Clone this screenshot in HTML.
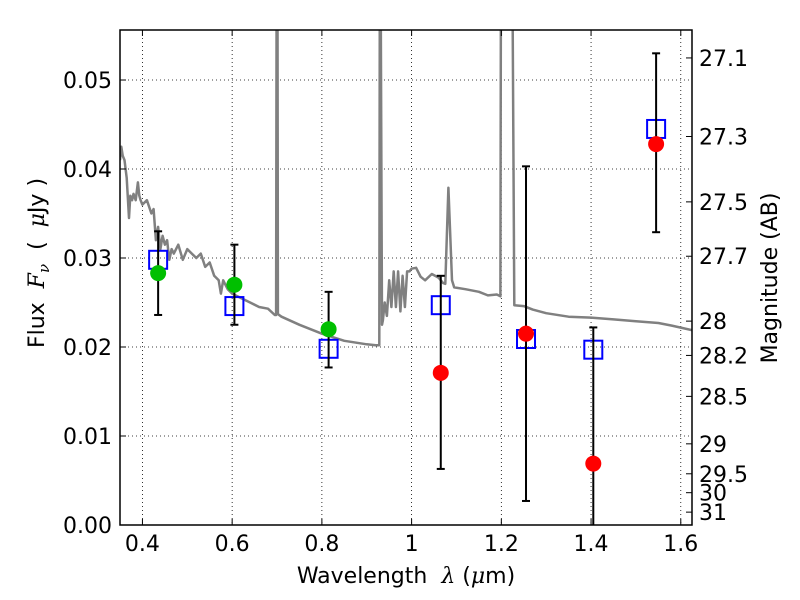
<!DOCTYPE html>
<html><head><meta charset="utf-8">
<style>
html,body{margin:0;padding:0;background:#fff;}
svg{display:block;font-family:"DejaVu Sans","Liberation Sans",sans-serif;}
text{white-space:pre;}
</style></head>
<body>
<svg id="chart" width="800" height="600" viewBox="0 0 800 600" xmlns="http://www.w3.org/2000/svg">
<rect width="800" height="600" fill="#fff"/>
<g id="grid"></g>
<g id="plot"></g>
<g id="axes"></g>
<text x="406" y="583" font-size="22" text-anchor="middle">Wavelength  <tspan font-style="italic" font-family="'DejaVu Serif',serif">λ</tspan> (<tspan font-style="italic" font-family="'DejaVu Serif',serif">μ</tspan>m)</text>
<text transform="translate(44,263) rotate(-90)" font-size="22" text-anchor="middle">Flux  <tspan font-style="italic" font-family="'DejaVu Serif',serif">F</tspan><tspan font-style="italic" font-family="'DejaVu Serif',serif" font-size="15" dy="5">ν</tspan><tspan dy="-5">  (  </tspan><tspan font-style="italic" font-family="'DejaVu Serif',serif">μ</tspan>Jy )</text>
<text transform="translate(777,278) rotate(-90)" font-size="22" text-anchor="middle">Magnitude (AB)</text>
</svg>
<script>
const xTicks=[0.4,0.6,0.8,1.0,1.2,1.4,1.6];
const xTickLabels=["0.4","0.6","0.8","1","1.2","1.4","1.6"];
const yTicks=[0,0.01,0.02,0.03,0.04,0.05];
const yTickLabels=["0.00","0.01","0.02","0.03","0.04","0.05"];
const magTicks=[27.1,27.3,27.5,27.7,28,28.2,28.5,29,29.5,30,31];
const magTickLabels=["27.1","27.3","27.5","27.7","28","28.2","28.5","29","29.5","30","31"];
const specWave=[0.35,0.353,0.356,0.36,0.365,0.37,0.373,0.377,0.38,0.385,0.39,0.393,0.396,0.4,0.41,0.42,0.425,0.43,0.435,0.44,0.445,0.45,0.455,0.46,0.465,0.47,0.48,0.49,0.5,0.51,0.52,0.53,0.54,0.55,0.56,0.57,0.575,0.58,0.585,0.59,0.6,0.62,0.64,0.66,0.68,0.695,0.698,0.699,0.701,0.702,0.71,0.75,0.8,0.85,0.9,0.92,0.928,0.929,0.931,0.934,0.936,0.94,0.945,0.95,0.955,0.96,0.965,0.97,0.975,0.98,0.985,0.99,0.995,1.0,1.01,1.02,1.03,1.045,1.06,1.07,1.075,1.082,1.09,1.095,1.12,1.15,1.17,1.19,1.198,1.199,1.201,1.21,1.225,1.229,1.25,1.27,1.3,1.35,1.4,1.45,1.5,1.55,1.58,1.625];
const specFlux=[0.041,0.0425,0.0415,0.041,0.039,0.0345,0.037,0.0365,0.0372,0.0365,0.0385,0.037,0.0365,0.036,0.0365,0.035,0.0355,0.032,0.0335,0.031,0.0325,0.0315,0.032,0.0298,0.031,0.0305,0.0315,0.0298,0.031,0.0305,0.030,0.0305,0.029,0.0295,0.028,0.0275,0.026,0.0275,0.027,0.0265,0.026,0.0255,0.025,0.0245,0.0243,0.0236,0.0236,0.06,0.06,0.0237,0.0234,0.0225,0.0215,0.0207,0.0203,0.0202,0.0202,0.06,0.06,0.0225,0.023,0.025,0.0235,0.0275,0.0245,0.0285,0.0245,0.0285,0.024,0.028,0.0245,0.0285,0.0285,0.0288,0.0289,0.0279,0.0275,0.0282,0.0278,0.0272,0.0271,0.0379,0.0275,0.0267,0.0265,0.0262,0.0258,0.0259,0.0257,0.06,0.06,0.06,0.06,0.0247,0.0246,0.0242,0.0238,0.0234,0.0233,0.0231,0.0229,0.0227,0.0224,0.0219];
const sqWave=[0.435,0.605,0.815,1.065,1.255,1.405,1.545];
const sqFlux=[0.0298,0.0246,0.0198,0.0247,0.0209,0.0197,0.0445];
const greenWave=[0.435,0.605,0.815];
const greenFlux=[0.0283,0.0270,0.0220];
const redWave=[1.065,1.255,1.405,1.545];
const redFlux=[0.0171,0.0215,0.0069,0.0428];
const errWave=[0.435,0.605,0.815,1.065,1.255,1.405,1.545];
const errLow=[0.0236,0.0225,0.0177,0.0063,0.0027,-0.003,0.0329];
const errHigh=[0.0330,0.0315,0.0262,0.0280,0.0403,0.0222,0.0530];

const L=120,R=692,T=30,B=525,XMIN=0.35,XMAX=1.625,YMIN=0,YMAX=0.05562;
const NS='http://www.w3.org/2000/svg';
function xs(v){return L+(v-XMIN)/(XMAX-XMIN)*(R-L);}
function ys(v){return B-(v-YMIN)/(YMAX-YMIN)*(B-T);}
function magToFlux(m){return Math.pow(10,(23.9-m)/2.5);}
function mk(tag,attrs,parent){const e=document.createElementNS(NS,tag);for(const k in attrs)e.setAttribute(k,attrs[k]);parent.appendChild(e);return e;}
const grid=document.getElementById('grid'),plot=document.getElementById('plot'),axes=document.getElementById('axes');

const defs=mk('defs',{},document.getElementById('chart'));
const cp=mk('clipPath',{id:'clip'},defs);
mk('rect',{x:L,y:T,width:R-L,height:B-T},cp);
plot.setAttribute('clip-path','url(#clip)');

xTicks.forEach((t,i)=>{
  const x=xs(t);
  const g=mk('line',{x1:x,x2:x,y1:T,y2:B,stroke:'#000','stroke-width':0.8,'stroke-dasharray':'1,3'},grid);
  
  
  const tk=mk('line',{x1:x,x2:x,y1:B,y2:B-6,stroke:'#000','stroke-width':1},axes);
  
  
  const tk2=mk('line',{x1:x,x2:x,y1:T,y2:T+6,stroke:'#000','stroke-width':1},axes);
  
  
  const lb=mk('text',{x:x,y:551,'font-size':22,'text-anchor':'middle'},axes);
  lb.textContent=xTickLabels[i];
  
  
});
yTicks.forEach((t,i)=>{
  const y=ys(t);
  const g=mk('line',{x1:L,x2:R,y1:y,y2:y,stroke:'#000','stroke-width':0.8,'stroke-dasharray':'1,3'},grid);
  
  
  const tk=mk('line',{x1:L,x2:L+6,y1:y,y2:y,stroke:'#000','stroke-width':1},axes);
  
  
  const lb=mk('text',{x:112,y:y+8,'font-size':22,'text-anchor':'end'},axes);
  lb.textContent=yTickLabels[i];
  
  
});
magTicks.forEach((m,i)=>{
  const y=ys(magToFlux(m));
  const tk=mk('line',{x1:R,x2:R-6,y1:y,y2:y,stroke:'#000','stroke-width':1},axes);
  
  
  const lb=mk('text',{x:699,y:y+8,'font-size':22,'text-anchor':'start'},axes);
  lb.textContent=magTickLabels[i];
  
  
});

const pts=specWave.map((w,i)=>xs(w).toFixed(1)+','+ys(specFlux[i]).toFixed(1)).join(' ');
const sp=mk('polyline',{points:pts,fill:'none',stroke:'#808080','stroke-width':2.5,'stroke-linejoin':'round'},plot);



sqWave.forEach((w,i)=>{
  const s=mk('rect',{x:xs(w)-9,y:ys(sqFlux[i])-9,width:18,height:18,fill:'none',stroke:'#0000ff','stroke-width':2},plot);
  
  
});
errWave.forEach((w,i)=>{
  const x=xs(w),y1=ys(errHigh[i]),y2=ys(errLow[i]);
  const g=mk('g',{},plot);
  
  
  mk('line',{x1:x,x2:x,y1:y1,y2:y2,stroke:'#000','stroke-width':2},g);
  mk('line',{x1:x-4,x2:x+4,y1:y1,y2:y1,stroke:'#000','stroke-width':2},g);
  mk('line',{x1:x-4,x2:x+4,y1:y2,y2:y2,stroke:'#000','stroke-width':2},g);
});
greenWave.forEach((w,i)=>{
  const c=mk('circle',{cx:xs(w),cy:ys(greenFlux[i]),r:8,fill:'#00bf00'},plot);
  
  
});
redWave.forEach((w,i)=>{
  const c=mk('circle',{cx:xs(w),cy:ys(redFlux[i]),r:8,fill:'#ff0000'},plot);
  
  
});
const frame=mk('rect',{x:L,y:T,width:R-L,height:B-T,fill:'none',stroke:'#000','stroke-width':1.5},axes);


</script>
</body></html>
